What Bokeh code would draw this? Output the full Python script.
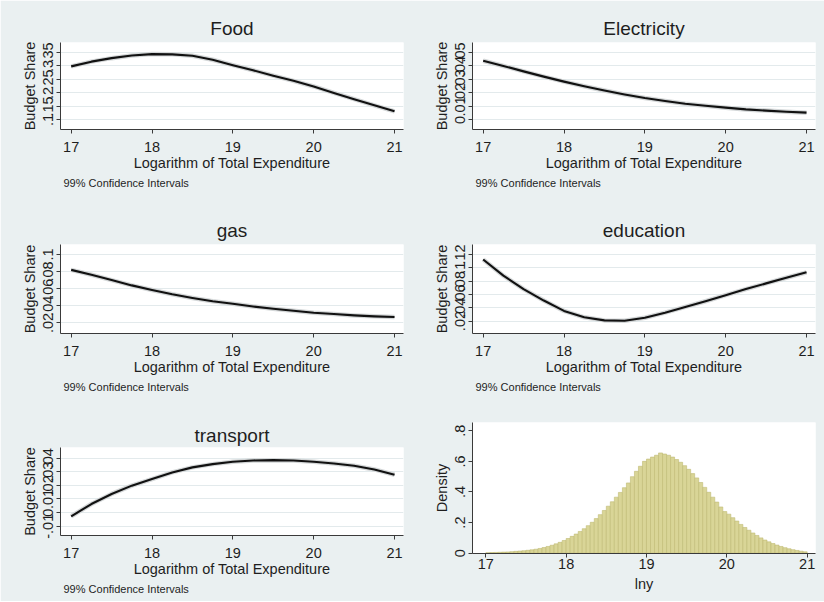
from bokeh.plotting import figure
from bokeh.models import FixedTicker, Range1d, Title, ColumnDataSource
from bokeh.embed import file_html
from bokeh.resources import INLINE
import numpy as np

# ---------------- data ----------------
x_pts = [17.0, 17.25, 17.5, 17.75, 18.0, 18.25, 18.5, 18.75, 19.0,
         19.25, 19.5, 19.75, 20.0, 20.25, 20.5, 20.75, 21.0]

food = [0.2985, 0.316, 0.329, 0.339, 0.344, 0.343, 0.338, 0.323, 0.303,
        0.284, 0.264, 0.245, 0.224, 0.200, 0.177, 0.154, 0.132]
electricity = [0.0439, 0.0400, 0.0360, 0.0321, 0.0284, 0.0250, 0.0218, 0.0189, 0.0162,
               0.0140, 0.0120, 0.0105, 0.0091, 0.0078, 0.0069, 0.0061, 0.0054]
gas = [0.0819, 0.0762, 0.0700, 0.0638, 0.0585, 0.0535, 0.0492, 0.0454, 0.0423,
       0.0392, 0.0365, 0.0342, 0.0319, 0.0304, 0.0288, 0.0277, 0.0269]
education = [0.1124, 0.0882, 0.0680, 0.0508, 0.0352, 0.0256, 0.0210, 0.0205, 0.0250,
             0.0326, 0.0412, 0.0498, 0.0589, 0.0680, 0.0766, 0.0851, 0.0932]
transport = [-0.0027, 0.0063, 0.0137, 0.0198, 0.0246, 0.0295, 0.0332, 0.0356, 0.0373,
             0.0383, 0.0385, 0.0383, 0.0373, 0.0361, 0.0344, 0.0317, 0.0278]

x_ticks = [17, 18, 19, 20, 21]
x_tick_labels = ["17", "18", "19", "20", "21"]

food_ticks = [0.10, 0.15, 0.20, 0.25, 0.30, 0.35]
food_labels = [".1", ".15", ".2", ".25", ".3", ".35"]
elec_ticks = [0.0, 0.01, 0.02, 0.03, 0.04, 0.05]
elec_labels = ["0", ".01", ".02", ".03", ".04", ".05"]
gas_ticks = [0.02, 0.04, 0.06, 0.08, 0.10]
gas_labels = [".02", ".04", ".06", ".08", ".1"]
edu_ticks = [0.02, 0.04, 0.06, 0.08, 0.10, 0.12]
edu_labels = [".02", ".04", ".06", ".08", ".1", ".12"]
trans_ticks = [-0.01, 0.0, 0.01, 0.02, 0.03, 0.04]
trans_labels = ["-.01", "0", ".01", ".02", ".03", ".04"]

# histogram of lny: bins of width 0.05 starting at 17.0
hist_start = 17.0
hist_bin_width = 0.05
hist_density = [
    0.003, 0.004, 0.005, 0.006, 0.007, 0.008, 0.010, 0.012, 0.014, 0.016,
    0.019, 0.022, 0.026, 0.031, 0.037, 0.044, 0.052, 0.061, 0.071, 0.083,
    0.096, 0.110, 0.125, 0.142, 0.160, 0.180, 0.202, 0.226, 0.252, 0.279,
    0.307, 0.336, 0.366, 0.397, 0.428, 0.459, 0.500, 0.535, 0.568, 0.600,
    0.615, 0.628, 0.640, 0.655, 0.648, 0.640, 0.628, 0.612, 0.594, 0.572,
    0.548, 0.520, 0.492, 0.462, 0.430, 0.398, 0.366, 0.334, 0.302, 0.272,
    0.255, 0.232, 0.210, 0.188, 0.168, 0.150, 0.132, 0.116, 0.100, 0.086,
    0.074, 0.063, 0.053, 0.044, 0.036, 0.029, 0.023, 0.018, 0.013, 0.009,
]
hist_ticks = [0.0, 0.2, 0.4, 0.6, 0.8]
hist_labels = ["0", ".2", ".4", ".6", ".8"]

# ---------------- styling ----------------
BG = "#eaf0f1"
FONT = "Liberation Sans"
TXT = "#1e1e1e"
AX = "#3a3a3a"


def style_axes(p, yticks, ylabels, ylabel, xlabel, x_label_standoff, x_title_standoff):
    p.xaxis.ticker = FixedTicker(ticks=x_ticks)
    p.xaxis.major_label_overrides = dict(zip(x_ticks, x_tick_labels))
    p.yaxis.ticker = FixedTicker(ticks=yticks)
    p.yaxis.major_label_overrides = dict(zip(yticks, ylabels))
    p.yaxis.major_label_orientation = "vertical"
    for ax in (p.xaxis[0], p.yaxis[0]):
        ax.axis_line_color = AX
        ax.axis_line_width = 1
        ax.major_tick_line_color = AX
        ax.major_tick_out = 4
        ax.major_tick_in = 0
        ax.minor_tick_line_color = None
        ax.major_label_text_font = FONT
        ax.major_label_text_font_size = "14.5px"
        ax.major_label_text_color = TXT
        ax.axis_label_text_font = FONT
        ax.axis_label_text_font_size = "14.5px"
        ax.axis_label_text_font_style = "normal"
        ax.axis_label_text_color = TXT
    p.xaxis.major_label_standoff = x_label_standoff
    p.xaxis.axis_label_standoff = x_title_standoff
    p.yaxis.major_label_standoff = 3
    p.yaxis.axis_label_standoff = 3
    p.xaxis.axis_label = xlabel
    p.yaxis.axis_label = ylabel
    p.xgrid.visible = False
    p.ygrid.ticker = FixedTicker(ticks=yticks)
    p.ygrid.grid_line_color = "#e3eaec"
    p.ygrid.grid_line_width = 1


def place(p, left, top):
    p.styles = {"position": "absolute", "left": f"{left}px", "top": f"{top}px"}


def line_panel(title, yvals, yticks, ylabels, yr, w, h, bl, bt, bb, title_standoff):
    p = figure(width=w, height=h, output_backend="svg", toolbar_location=None,
               x_range=Range1d(16.868, 21.111), y_range=Range1d(*yr),
               min_border_left=bl, min_border_right=9,
               min_border_top=bt, min_border_bottom=bb,
               background_fill_color="white", border_fill_color=BG,
               outline_line_color=None)
    p.title.text = title
    p.title.align = "center"
    p.title.text_font = FONT
    p.title.text_font_size = "19px"
    p.title.text_font_style = "normal"
    p.title.text_color = TXT
    p.title.standoff = title_standoff
    style_axes(p, yticks, ylabels, "Budget Share", "Logarithm of Total Expenditure", 8, 0)
    src = ColumnDataSource(dict(x=x_pts, y=yvals))
    p.line("x", "y", source=src, line_color="#cfd3d4", line_width=4.5, line_alpha=0.9,
           line_join="round")
    p.line("x", "y", source=src, line_color="#111111", line_width=2.1, line_join="round")
    p.add_layout(Title(text="99% Confidence Intervals", align="left", offset=3,
                       text_font=FONT, text_font_size="11px", text_font_style="normal",
                       text_color=TXT, standoff=2), "below")
    return p


# panels overlap by 1px so that no seams show between them
p_food = line_panel("Food", food, food_ticks, food_labels, (0.0645, 0.387), 412, 204, 60, 42, 75, 7)
p_elec = line_panel("Electricity", electricity, elec_ticks, elec_labels, (-0.0071, 0.0574), 413, 204, 61, 42, 75, 7)
p_gas = line_panel("gas", gas, gas_ticks, gas_labels, (0.0077, 0.1115), 412, 201, 60, 41, 71, 7)
p_edu = line_panel("education", education, edu_ticks, edu_labels, (0.0013, 0.135), 413, 201, 61, 41, 71, 7)
p_trans = line_panel("transport", transport, trans_ticks, trans_labels, (-0.0168, 0.0478), 412, 198, 60, 44, 66, 4)

# histogram panel
edges = hist_start + hist_bin_width * np.arange(len(hist_density) + 1)
hsrc = ColumnDataSource(dict(left=edges[:-1], right=edges[1:], top=hist_density))
p_hist = figure(width=413, height=198, output_backend="svg", toolbar_location=None,
                x_range=Range1d(16.834, 21.104), y_range=Range1d(-0.002, 0.854),
                min_border_left=61, min_border_right=9, min_border_top=19, min_border_bottom=48,
                background_fill_color="white", border_fill_color=BG, outline_line_color=None)
p_hist.quad(left="left", right="right", bottom=0, top="top", source=hsrc,
            fill_color="#d9d597", line_color="#bfbb74", line_width=0.6)
style_axes(p_hist, hist_ticks, hist_labels, "Density", "lny", 1, 4)
p_hist.ygrid.visible = False

place(p_food, 0, 0)
place(p_elec, 411, 0)
place(p_gas, 0, 203)
place(p_edu, 411, 203)
place(p_trans, 0, 403)
place(p_hist, 411, 403)

roots = [p_food, p_elec, p_gas, p_edu, p_trans, p_hist]
open("out.html", "w").write(file_html(roots, INLINE))
